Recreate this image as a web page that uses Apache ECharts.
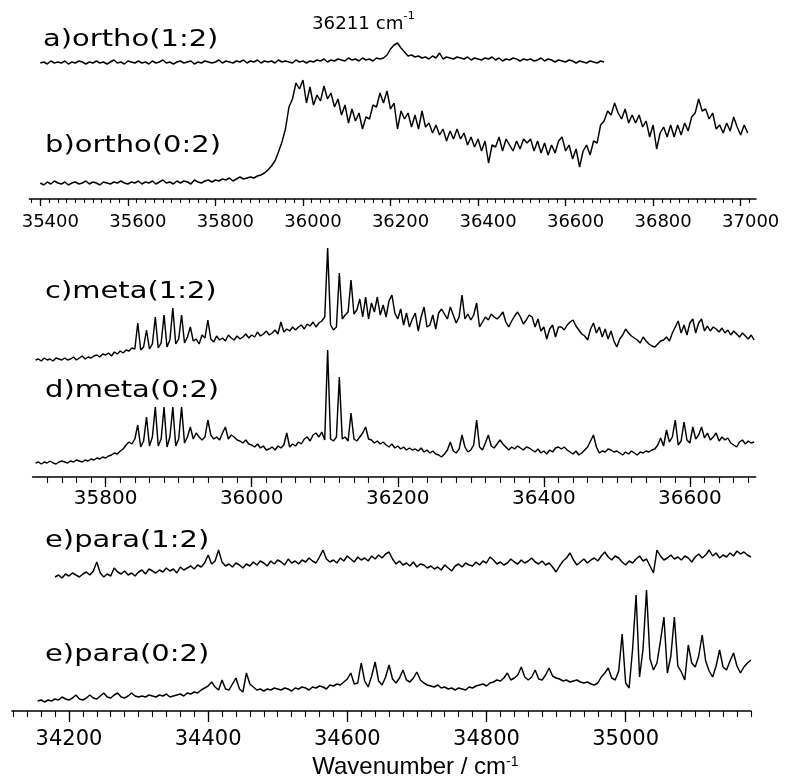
<!DOCTYPE html>
<html><head><meta charset="utf-8">
<script src="https://cdn.jsdelivr.net/npm/echarts@6/dist/echarts.min.js"></script>
<style>html,body{margin:0;padding:0;background:#fff}#c{width:787px;height:780px}</style>
</head><body><div id="c"></div>
<script>
// ---------- DATA (wavenumber grid start/step, heights) ----------
const orthoStart = 35400, orthoStep = 8;
const orthoA = [136,137,135,138,136,137,136,138,135,137,
136,138,137,135,137,136,138,136,137,135,
137,139,136,137,135,138,137,136,138,136,
137,135,138,136,137,139,136,137,135,137,
138,136,137,138,135,137,136,138,137,136,
137,139,136,138,137,136,138,137,139,136,
138,137,139,136,138,137,138,136,139,137,
138,137,136,139,137,138,136,138,137,139,
138,140,137,139,138,140,139,138,141,139,
140,138,141,139,140,138,141,140,141,144,
150,154,156,151,147,143,144,142,143,141,
142,140,143,141,146,140,142,141,140,142,
141,140,142,139,141,140,139,141,140,142,
139,141,138,140,139,141,140,138,140,139,
140,138,139,141,138,140,139,137,139,138,
137,139,138,136,138,137,136,138,137,136,
138,137];
const orthoB = [16,14,17,15,18,16,15,17,14,16,
17,15,16,18,15,17,16,14,17,16,
15,17,16,18,16,15,17,16,18,15,
17,16,18,15,17,19,16,17,15,18,
16,18,17,15,19,17,16,18,19,17,
19,18,20,19,21,18,20,22,20,21,
22,21,23,24,26,29,33,38,47,57,
70,92,100,116,110,119,96,112,94,104,
98,113,100,106,92,100,84,94,76,90,
78,86,70,82,80,94,92,106,96,108,
90,96,70,88,80,86,72,84,70,88,
72,76,66,74,64,70,58,68,60,70,
60,66,54,62,52,60,48,58,36,54,
52,62,48,60,54,48,58,50,60,56,
60,48,58,46,56,44,54,46,58,62,
48,54,40,50,32,48,54,44,58,56,
74,78,88,84,96,86,80,90,76,84,
76,84,72,78,62,74,50,66,72,62,
74,62,74,64,76,68,82,86,100,88,
90,80,86,70,74,66,76,68,82,72,
64,74,66];

const metaStart = 35704, metaStep = 4;
const metaC = [117,118,116,119,117,118,116,119,118,117,
119,117,118,120,117,119,121,118,120,119,
121,122,120,123,122,124,121,125,123,126,
124,127,126,129,128,154,127,130,147,128,
133,160,129,134,162,130,137,169,133,138,
162,134,140,150,136,138,133,142,139,157,
138,135,141,137,139,136,142,139,137,141,
138,140,143,139,142,140,145,141,143,146,
142,144,147,143,155,145,148,146,150,147,
150,152,148,153,151,155,150,154,156,160,
229,152,147,150,204,158,162,165,197,163,
167,178,160,180,158,174,165,180,162,172,
160,176,182,164,158,168,152,164,150,158,
164,146,160,170,150,152,162,148,164,168,
163,158,170,162,154,160,182,158,163,157,
162,174,150,155,160,157,163,160,158,161,
165,155,150,156,161,165,160,153,157,162,
160,150,158,146,150,138,148,152,140,150,
150,147,152,155,157,151,147,143,141,137,
148,154,144,150,140,148,138,146,136,130,
138,142,148,144,141,139,137,134,140,136,
133,131,130,133,136,137,140,136,144,150,
156,144,152,142,154,158,144,154,158,146,
151,146,150,148,145,149,144,147,142,146,
143,140,144,141,138,142,137];
const metaD = [14,15,13,15,14,16,14,13,15,16,
15,14,16,15,17,16,15,17,16,18,
17,19,18,20,19,21,22,24,23,26,
28,32,35,33,38,52,30,36,60,31,
40,70,31,38,70,30,40,70,31,38,
70,34,40,50,38,44,40,37,40,57,
42,38,40,37,44,50,38,42,40,37,
36,34,37,33,32,30,33,29,31,27,
28,30,27,31,29,32,44,30,33,31,
35,33,38,40,36,42,44,40,45,37,
127,38,36,40,100,38,40,36,64,38,
36,40,44,50,38,37,34,36,33,35,
32,30,33,29,31,28,30,27,29,27,
28,26,29,25,27,24,26,23,22,20,
23,27,35,26,24,28,42,30,25,27,
32,57,30,27,34,42,31,29,33,37,
33,30,27,30,28,31,29,27,30,29,
27,25,28,24,26,23,27,25,29,30,
28,30,27,25,23,26,22,24,27,30,
36,42,30,24,26,25,28,27,25,26,
24,22,25,23,26,24,22,25,24,26,
25,27,28,32,39,31,47,35,40,57,
32,36,55,37,34,50,38,42,50,39,
44,37,40,44,36,40,37,39,34,32,
30,35,37,33,36,34,35];

const paraE1Start = 34180, paraE1Step = 5;
const paraE1 = [134,136,133,137,135,138,136,134,137,139,
136,140,149,138,134,137,135,143,139,137,
140,136,138,135,139,141,137,142,140,138,
141,139,143,140,142,138,144,141,143,145,
142,146,144,148,156,147,150,161,149,145,
147,144,148,146,143,147,145,149,146,150,
148,145,150,147,151,149,146,152,148,150,
147,151,149,153,150,148,154,161,152,149,
151,148,153,150,155,152,149,154,151,153,
150,155,152,156,153,157,159,152,147,150,
146,148,145,149,144,147,146,143,145,142,
144,141,146,143,140,145,147,144,148,146,
145,149,146,150,148,154,151,147,149,146,
148,152,149,147,151,148,150,153,149,147,
150,146,148,144,139,145,150,153,158,151,
146,149,152,148,151,153,150,155,159,154,
151,155,153,149,146,150,148,152,155,150,
152,145,138,161,155,151,153,156,152,154,
151,155,153,149,154,157,153,156,161,155,
158,153,156,154,158,155,160,157,159,156,
154];
const paraE2Start = 34155, paraE2Step = 5;
const paraE2 = [10,11,9,11,10,12,11,14,12,11,
13,16,12,11,13,16,13,12,15,18,
14,13,16,18,14,13,15,18,15,14,
15,14,16,15,14,16,15,17,14,15,
16,17,15,18,17,19,18,21,23,25,
29,24,21,31,22,21,27,33,22,19,
38,27,24,21,22,20,22,21,23,22,
21,23,22,20,23,22,24,23,21,24,
23,25,24,22,26,25,27,26,29,32,
38,27,28,48,30,24,35,49,30,26,
34,46,32,28,33,41,31,29,33,39,
31,28,26,25,24,26,23,24,22,23,
21,23,22,21,24,23,25,26,27,25,
28,29,31,30,33,38,31,33,36,44,
34,31,34,41,32,31,36,43,35,33,
32,30,31,29,30,31,29,28,29,27,
26,28,34,38,43,33,31,40,77,28,
23,62,116,34,62,121,52,41,48,70,
94,38,55,94,45,39,31,66,48,44,
55,76,50,40,34,45,61,44,41,50,
58,45,38,44,48,51];

// tick labels
const orthoMajor = [35400,35600,35800,36000,36200,36400,36600,36800,37000];
const metaMajor = [35800,36000,36200,36400,36600];
const paraMajor = [34200,34400,34600,34800,35000];
const traceLabels = ['a)ortho(1:2)','b)ortho(0:2)','c)meta(1:2)','d)meta(0:2)','e)para(1:2)','e)para(0:2)'];
const peakNote = '36211 cm';
const axisTitle = 'Wavenumber / cm';

// ---------- BUILD ----------
function seq(start, step, vals){ return vals.map((v,i)=>[start+i*step, v]); }
function ticks(from, to, step){ const a=[]; for(let v=from; v<=to; v+=step) a.push(v); return a; }

const BLACK = '#000';
function majorAxis(grid, min, max, vals, len, fs, margin, pad){
  return {type:'value', gridIndex:grid, position:'bottom', min:min, max:max,
    axisLine:{show:true, onZero:false, lineStyle:{color:BLACK, width:1.6}},
    splitLine:{show:false},
    axisTick:{show:true, inside:false, length:len, customValues:vals, lineStyle:{color:BLACK, width:1.3}},
    axisLabel:{show:true, customValues:vals, formatter:v=>String(v), color:BLACK,
      fontFamily:'DejaVu Sans', fontSize:fs, margin:margin, padding:pad}};
}
function minorAxis(grid, min, max, vals, len){
  return {type:'value', gridIndex:grid, position:'bottom', min:min, max:max,
    axisLine:{show:false, onZero:false}, splitLine:{show:false}, axisLabel:{show:false},
    axisTick:{show:true, inside:false, length:len, customValues:vals, lineStyle:{color:BLACK, width:1.1}}};
}
function lineSeries(xi, yi, data){
  return {type:'line', xAxisIndex:xi, yAxisIndex:yi, data:data, showSymbol:false, symbol:'none',
    silent:true, animation:false, lineStyle:{color:BLACK, width:1.45}, z:3};
}

const xAxes = [
  majorAxis(0, 35375, 37035, orthoMajor, 7, 18, 14, [0,0,0,20]),
  minorAxis(0, 35375, 37035, ticks(35380, 37020, 20), 4),
  majorAxis(1, 35700, 36690, metaMajor, 10, 20, 12, 0),
  minorAxis(1, 35700, 36690, ticks(35720, 36680, 20), 6),
  majorAxis(2, 34118, 35180, paraMajor, 11, 21, 18, 0),
  minorAxis(2, 34118, 35180, ticks(34120, 35180, 20), 6)
];
xAxes[4].name = axisTitle + '{s|-1}';
xAxes[4].nameLocation = 'middle';
xAxes[4].nameGap = 44;
xAxes[4].nameTextStyle = {fontFamily:'Liberation Sans', fontSize:24, color:BLACK, padding:[0,0,0,68],
  rich:{s:{fontFamily:'Liberation Sans', fontSize:14, color:BLACK, verticalAlign:'top', lineHeight:24}}};

const labelPos = [[43,40],[45,146],[45,292],[45,391],[45,541],[45,655]];
const graphics = traceLabels.map((t,i)=>({type:'text', x:labelPos[i][0], y:labelPos[i][1], scaleX:1.26, silent:true,
  style:{text:t, font:'23px "DejaVu Sans"', fill:BLACK, align:'left', verticalAlign:'middle'}}));
graphics.push({type:'text', x:312, y:22, scaleX:1.07, silent:true,
  style:{text:'{n|' + peakNote + '}{s|-1}', font:'17px "DejaVu Sans"', fill:BLACK, align:'left', verticalAlign:'middle',
    rich:{n:{fontFamily:'DejaVu Sans', fontSize:17, lineHeight:22, verticalAlign:'bottom', fill:BLACK},
          s:{fontFamily:'DejaVu Sans', fontSize:11, fill:BLACK, verticalAlign:'top'}}}});

const option = {
  animation:false,
  backgroundColor:'#fff',
  grid:[
    {left:29.4, width:726.6, top:0, height:199},
    {left:32.6, width:723, top:200, height:277},
    {left:11.9, width:739, top:480, height:231}
  ],
  xAxis:xAxes,
  yAxis:[
    {type:'value', gridIndex:0, min:0, max:199, show:false},
    {type:'value', gridIndex:1, min:0, max:277, show:false},
    {type:'value', gridIndex:2, min:0, max:231, show:false}
  ],
  series:[
    lineSeries(0,0, seq(orthoStart, orthoStep, orthoA)),
    lineSeries(0,0, seq(orthoStart, orthoStep, orthoB)),
    lineSeries(2,1, seq(metaStart, metaStep, metaC)),
    lineSeries(2,1, seq(metaStart, metaStep, metaD)),
    lineSeries(4,2, seq(paraE1Start, paraE1Step, paraE1)),
    lineSeries(4,2, seq(paraE2Start, paraE2Step, paraE2))
  ],
  graphic:graphics
};
const chart = echarts.init(document.getElementById('c'), null, {renderer:'canvas'});
chart.setOption(option);
</script></body></html>
